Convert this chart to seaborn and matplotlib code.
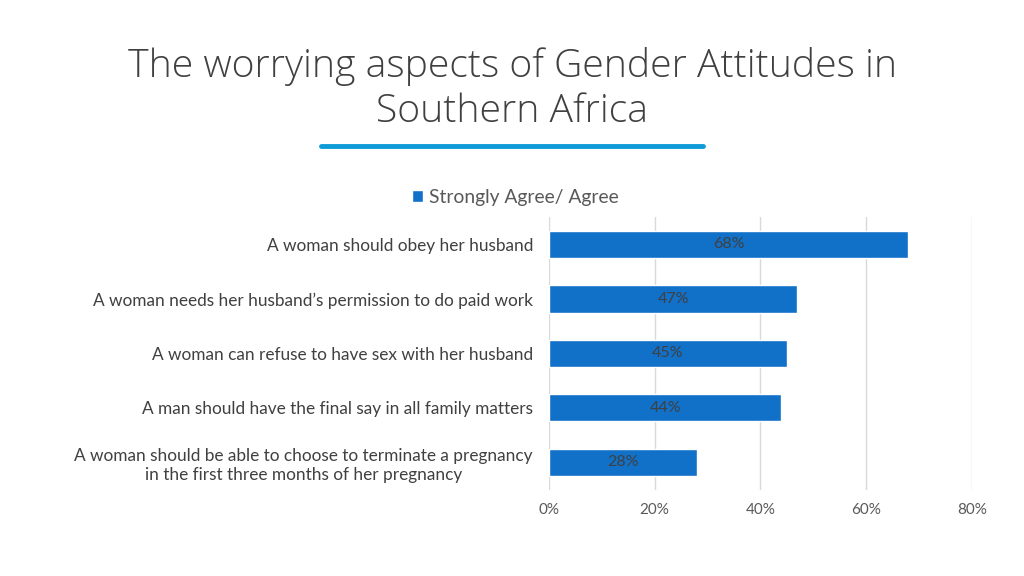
import matplotlib
matplotlib.use("Agg")
import matplotlib.pyplot as plt
import seaborn as sns
import pandas as pd
from matplotlib.ticker import PercentFormatter

statements = [
    "A woman should obey her husband",
    "A woman needs her husband\u2019s permission to do paid work",
    "A woman can refuse to have sex with her husband",
    "A man should have the final say in all family matters",
    "A woman should be able to choose to terminate a pregnancy\nin the first three months of her pregnancy",
]
agree = [68, 47, 45, 44, 28]
series_name = "Strongly Agree/ Agree"

df = pd.DataFrame({"Statement": statements, "Agree": agree})

sns.set_style("white")
plt.rcParams["font.family"] = ["Lato", "DejaVu Sans"]

fig = plt.figure(figsize=(10.24, 5.76), dpi=100)
ax = fig.add_axes([0.536, 0.150, 0.413, 0.473])

sns.barplot(data=df, x="Agree", y="Statement", orient="h", color="#1170C8",
            width=0.5, label=series_name, ax=ax, saturation=1)

# value labels in the middle of each bar
for bar, v in zip(ax.patches, agree):
    ax.text(bar.get_x() + bar.get_width() / 2, bar.get_y() + bar.get_height() / 2,
            f"{v}%", ha="center", va="center", fontsize=11.5, color="#404040")

ax.set_xlim(0, 80)
ax.set_xticks([0, 20, 40, 60, 80])
ax.xaxis.set_major_formatter(PercentFormatter(decimals=0))
ax.grid(axis="x", color="#D9D9D9", linewidth=1)
ax.set_axisbelow(True)
for s in ax.spines.values():
    s.set_visible(False)
ax.tick_params(axis="x", length=0, pad=10, labelsize=11, labelcolor="#595959")
ax.tick_params(axis="y", length=0, pad=11.5, labelsize=12.4, labelcolor="#404040")
for lbl in ax.get_yticklabels():
    lbl.set_multialignment("center")
    lbl.set_linespacing(1.25)
ax.set_xlabel("")
ax.set_ylabel("")

leg = ax.legend(loc="center", bbox_to_anchor=(0.503, 0.657), bbox_transform=fig.transFigure,
                frameon=False, fontsize=13.9, handlelength=0.6, handleheight=0.6,
                handletextpad=0.3, labelcolor="#595959")

# title and underline
fig.text(0.5, 0.845, "The worrying aspects of Gender Attitudes in\nSouthern Africa",
         ha="center", va="center", fontsize=28.2, color="#404040",
         family=["Open Sans", "DejaVu Sans"], fontweight="light", linespacing=1.22)
fig.add_artist(plt.Line2D([0.313, 0.687], [0.746, 0.746], transform=fig.transFigure,
                          color="#0E9BD8", linewidth=3.5, solid_capstyle="round"))

fig.savefig("out.png", dpi=100)
